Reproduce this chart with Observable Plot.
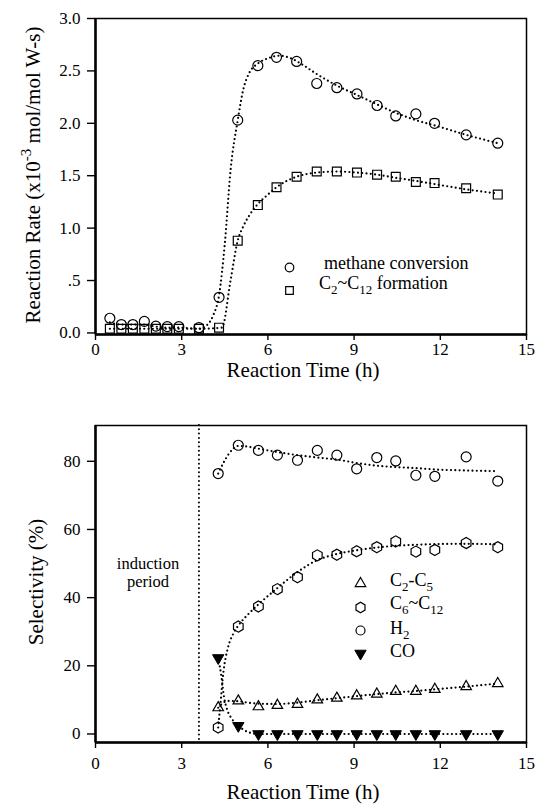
<!DOCTYPE html>
<html>
<head>
<meta charset="utf-8">
<script src="https://cdn.jsdelivr.net/npm/d3@7"></script>
<script src="https://cdn.jsdelivr.net/npm/@observablehq/plot@0.6"></script>
<style>
  body { margin: 0; background: #fff; }
  #chart svg { display: block; }
  #chart svg, #chart svg text { font-family: 'Liberation Serif', 'Times New Roman', serif !important; }
</style>
</head>
<body>
<div id="chart"></div>
<script>
// ---------- tick labels ----------
const xTicks = [0, 3, 6, 9, 12, 15];
const rateTicks = [0, 0.5, 1.0, 1.5, 2.0, 2.5, 3.0];
const rateTickLabels = ["0.0", ".5", "1.0", "1.5", "2.0", "2.5", "3.0"];
const selTicks = [0, 20, 40, 60, 80];

// ---------- top panel: reaction rate ----------
const rateTime    = [0.5, 0.9, 1.3, 1.7, 2.1, 2.5, 2.9, 3.6, 4.3, 4.95, 5.65, 6.3, 7.0, 7.7, 8.4, 9.1, 9.8, 10.45, 11.15, 11.8, 12.9, 14.0];
const methaneRate = [0.14, 0.08, 0.08, 0.11, 0.065, 0.06, 0.06, 0.05, 0.34, 2.03, 2.55, 2.63, 2.59, 2.38, 2.34, 2.28, 2.17, 2.07, 2.09, 2.00, 1.89, 1.81];
const c2c12Rate   = [0.04, 0.04, 0.04, 0.04, 0.04, 0.04, 0.04, 0.04, 0.05, 0.88, 1.22, 1.39, 1.49, 1.54, 1.54, 1.53, 1.51, 1.49, 1.44, 1.43, 1.38, 1.32];

// fitted (dotted) curves
const methaneFitTime = [0.5, 0.9, 1.3, 1.7, 2.1, 2.5, 2.9, 3.6, 3.9, 4.1, 4.3, 4.5, 4.7, 4.95, 5.15, 5.35, 5.65, 6.0, 6.4, 6.8, 7.2, 7.7, 8.4, 9.1, 9.8, 10.45, 11.15, 11.8, 12.9, 14.0];
const methaneFit     = [0.1, 0.08, 0.08, 0.08, 0.06, 0.05, 0.05, 0.04, 0.08, 0.17, 0.36, 0.85, 1.55, 2.03, 2.33, 2.48, 2.57, 2.62, 2.645, 2.62, 2.56, 2.47, 2.36, 2.27, 2.18, 2.10, 2.03, 1.98, 1.89, 1.81];
const c2c12FitTime = [0.5, 0.9, 1.3, 1.7, 2.1, 2.5, 2.9, 3.6, 4.4, 4.7, 4.95, 5.15, 5.35, 5.65, 6.0, 6.3, 7.0, 7.7, 8.4, 9.1, 9.8, 10.45, 11.15, 11.8, 12.9, 14.0];
const c2c12Fit     = [0.04, 0.04, 0.04, 0.04, 0.04, 0.04, 0.04, 0.04, 0.05, 0.5, 0.88, 1.02, 1.12, 1.23, 1.32, 1.39, 1.49, 1.53, 1.54, 1.53, 1.51, 1.48, 1.45, 1.42, 1.37, 1.33];

// ---------- bottom panel: selectivity ----------
const selTime   = [4.27, 4.97, 5.67, 6.33, 7.03, 7.72, 8.40, 9.09, 9.79, 10.45, 11.15, 11.81, 12.9, 14.0];
const selH2     = [76.4, 84.7, 83.2, 81.8, 80.3, 83.2, 81.8, 77.8, 81.1, 80.1, 75.9, 75.6, 81.3, 74.2];
const selC6C12  = [1.9, 31.5, 37.4, 42.5, 46.0, 52.4, 52.6, 53.6, 54.8, 56.5, 53.5, 54.0, 56.0, 54.8];
const selC2C5   = [7.7, 9.7, 8.0, 8.4, 8.7, 10.0, 10.5, 11.2, 11.7, 12.5, 12.5, 13.1, 13.9, 14.8];
const selCO     = [22.3, 2.4, 0, 0, 0, 0, 0, 0, 0, 0, 0, 0, 0, 0];

const h2FitTime = [4.27, 4.45, 4.65, 4.97, 5.3, 5.67, 6.33, 7.03, 7.72, 8.4, 9.09, 9.79, 10.45, 11.15, 11.81, 12.9, 14.0];
const h2Fit     = [76.4, 79.5, 82.3, 84.5, 84.3, 83.7, 82.7, 81.8, 81.1, 80.5, 79.5, 78.7, 78.3, 78.0, 77.6, 77.3, 77.1];
const c6FitTime = [4.27, 4.35, 4.45, 4.6, 4.8, 4.97, 5.3, 5.67, 6.33, 7.03, 7.72, 8.4, 9.09, 9.79, 10.45, 11.15, 11.81, 12.9, 14.0];
const c6Fit     = [1.9, 9.0, 18.0, 25.0, 29.5, 31.8, 35.0, 38.0, 42.8, 47.5, 51.0, 52.8, 53.9, 54.7, 55.2, 55.5, 55.7, 55.8, 55.6];
const c2FitTime = [4.27, 4.45, 4.6, 4.97, 5.3, 5.67, 6.33, 7.03, 7.72, 8.4, 9.09, 9.79, 10.45, 11.15, 11.81, 12.9, 14.0];
const c2Fit     = [7.7, 9.2, 9.7, 9.6, 9.2, 8.9, 8.8, 9.2, 9.9, 10.5, 11.1, 11.7, 12.2, 12.6, 13.1, 13.9, 14.8];
const coFitTime = [4.27, 4.38, 4.47, 4.58, 4.75, 4.97, 5.3, 5.67, 6.33, 7.03, 7.72, 8.4, 9.09, 9.79, 10.45, 11.15, 11.81, 12.9, 14.0];
const coFit     = [22.3, 17.0, 11.0, 7.2, 4.4, 2.4, 0.6, 0, 0, 0, 0, 0, 0, 0, 0, 0, 0, 0, 0];

const inductionEnd = 3.6;

// ---------- helpers ----------
const zip = (xs, ys) => xs.map((x, i) => ({x, y: ys[i]}));
const FONT = "'Liberation Serif', 'Times New Roman', serif";
const W = 537;
const dotted = {x: "x", y: "y", curve: "monotone-x", stroke: "black", strokeWidth: 2.2, strokeDasharray: "0 4.3", strokeLinecap: "round"};
const sym = {x: "x", y: "y", stroke: "black", fill: "none", strokeWidth: 1.2};
const style = {fontFamily: FONT, fontSize: "17px", color: "black", background: "white", overflow: "visible"};

function richText(svg, x, y, parts, size, opts = {}) {
  const t = d3.select(svg).append("text")
    .attr("font-family", FONT).attr("font-size", size).attr("fill", "black")
    .attr("text-anchor", opts.anchor || "start");
  if (opts.rotate) t.attr("transform", `translate(${x},${y}) rotate(${opts.rotate})`);
  else t.attr("x", x).attr("y", y);
  let shift = 0;
  for (const p of parts) {
    const target = p.sub ? size * 0.3 : p.sup ? -size * 0.42 : 0;
    const ts = t.append("tspan").attr("dy", target - shift).text(p.t);
    if (p.sub || p.sup) ts.attr("font-size", size * 0.72);
    shift = target;
  }
  return t;
}

// ---------- top chart ----------
const topMl = 95, topMt = 18;
const rateMin = -0.015;
const topChart = Plot.plot({
  width: W, height: 400,
  marginLeft: topMl, marginRight: 11, marginTop: topMt, marginBottom: 66,
  style,
  x: {domain: [0, 15], label: null},
  y: {domain: [rateMin, 3.0], label: null},
  marks: [
    Plot.frame({strokeWidth: 1.5}),
    Plot.ruleX([0], {strokeWidth: 2.5}),
    Plot.ruleY([rateMin], {strokeWidth: 2.5}),
    Plot.axisX({ticks: xTicks, tickSize: 6, tickPadding: 2, fontSize: 17, strokeWidth: 1.4, label: null, tickFormat: d => String(d)}),
    Plot.axisY({ticks: rateTicks, tickSize: 8, tickPadding: 7, fontSize: 17, strokeWidth: 1.4, label: null, tickFormat: d => rateTickLabels[rateTicks.indexOf(d)]}),
    Plot.line(zip(methaneFitTime, methaneFit), dotted),
    Plot.line(zip(c2c12FitTime, c2c12Fit), dotted),
    Plot.dot(zip(rateTime, methaneRate), {...sym, r: 5, symbol: "circle"}),
    Plot.dot(zip(rateTime, c2c12Rate), {...sym, r: 5, symbol: "square"}),
    // legend symbols
    Plot.dot([0], {frameAnchor: "top-left", dx: 289 - topMl, dy: 267 - topMt, r: 4.3, symbol: "circle", stroke: "black", fill: "none", strokeWidth: 1.2}),
    Plot.dot([0], {frameAnchor: "top-left", dx: 289 - topMl, dy: 290 - topMt, r: 4.3, symbol: "square", stroke: "black", fill: "none", strokeWidth: 1.2})
  ]
});
richText(topChart, 324, 269, [{t: "methane conversion"}], 18);
richText(topChart, 319, 289, [{t: "C"}, {t: "2", sub: true}, {t: "~C"}, {t: "12", sub: true}, {t: " formation"}], 18);
richText(topChart, 303, 377, [{t: "Reaction Time (h)"}], 21, {anchor: "middle"});
richText(topChart, 40, 175, [{t: "Reaction Rate (x10"}, {t: "-3", sup: true}, {t: " mol/mol W-s)"}], 21, {anchor: "middle", rotate: -90});

// ---------- bottom chart ----------
const botMl = 95, botMt = 25;
const selMin = -2.5;
const botChart = Plot.plot({
  width: W, height: 406,
  marginLeft: botMl, marginRight: 11, marginTop: botMt, marginBottom: 64,
  style,
  x: {domain: [0, 15], label: null},
  y: {domain: [selMin, 90.5], label: null},
  marks: [
    Plot.frame({strokeWidth: 1.5}),
    Plot.ruleX([0], {strokeWidth: 2.5}),
    Plot.ruleY([selMin], {strokeWidth: 2.5}),
    Plot.ruleX([inductionEnd], {stroke: "black", strokeWidth: 2, strokeDasharray: "0 4.3", strokeLinecap: "round"}),
    Plot.axisX({ticks: xTicks, tickSize: 6, tickPadding: 8, fontSize: 17, strokeWidth: 1.4, label: null, tickFormat: d => String(d)}),
    Plot.axisY({ticks: selTicks, tickSize: 8, tickPadding: 7, fontSize: 17, strokeWidth: 1.4, label: null, tickFormat: d => String(d)}),
    Plot.line(zip(h2FitTime, h2Fit), dotted),
    Plot.line(zip(c6FitTime, c6Fit), dotted),
    Plot.line(zip(c2FitTime, c2Fit), dotted),
    Plot.line(zip(coFitTime, coFit), dotted),
    Plot.dot(zip(selTime, selH2), {...sym, r: 5, symbol: "circle"}),
    Plot.dot(zip(selTime, selC6C12), {...sym, r: 4.8, symbol: "hexagon"}),
    Plot.dot(zip(selTime, selC2C5), {...sym, r: 3.9, symbol: "triangle"}),
    Plot.dot(zip(selTime, selCO), {x: "x", y: "y", r: 4.2, symbol: "triangle", rotate: 180, fill: "black", stroke: "black", strokeWidth: 1}),
    // legend symbols
    Plot.dot([0], {frameAnchor: "top-left", dx: 360 - botMl, dy: 183 - botMt, r: 3.9, symbol: "triangle", stroke: "black", fill: "none", strokeWidth: 1.2}),
    Plot.dot([0], {frameAnchor: "top-left", dx: 360 - botMl, dy: 207 - botMt, r: 4.5, symbol: "hexagon", stroke: "black", fill: "none", strokeWidth: 1.2}),
    Plot.dot([0], {frameAnchor: "top-left", dx: 360 - botMl, dy: 230 - botMt, r: 4.5, symbol: "circle", stroke: "black", fill: "none", strokeWidth: 1.2}),
    Plot.dot([0], {frameAnchor: "top-left", dx: 360 - botMl, dy: 253 - botMt, r: 4.2, symbol: "triangle", rotate: 180, fill: "black", stroke: "black", strokeWidth: 1})
  ]
});
richText(botChart, 390, 186, [{t: "C"}, {t: "2", sub: true}, {t: "-C"}, {t: "5", sub: true}], 18);
richText(botChart, 390, 209, [{t: "C"}, {t: "6", sub: true}, {t: "~C"}, {t: "12", sub: true}], 18);
richText(botChart, 390, 234, [{t: "H"}, {t: "2", sub: true}], 18);
richText(botChart, 390, 257, [{t: "CO"}], 18);
richText(botChart, 148, 169, [{t: "induction"}], 16.5, {anchor: "middle"});
richText(botChart, 148, 187, [{t: "period"}], 16.5, {anchor: "middle"});
richText(botChart, 303, 399, [{t: "Reaction Time (h)"}], 21, {anchor: "middle"});
richText(botChart, 43, 182, [{t: "Selectivity (%)"}], 21, {anchor: "middle", rotate: -90});

const root = document.getElementById("chart");
root.appendChild(topChart);
root.appendChild(botChart);
</script>
</body>
</html>
